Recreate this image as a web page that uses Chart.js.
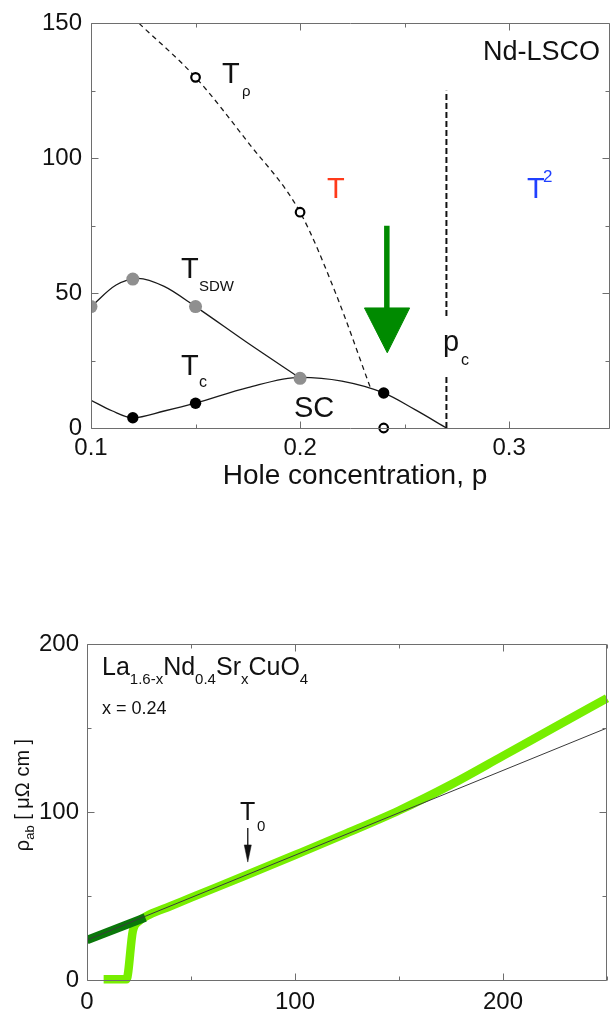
<!DOCTYPE html>
<html>
<head>
<meta charset="utf-8">
<script src="https://cdn.jsdelivr.net/npm/chart.js@4.4.1/dist/chart.umd.min.js"></script>
<style>
html, body { margin:0; padding:0; background:#fff; width:616px; height:1011px; overflow:hidden; }
.box { position:absolute; left:0; width:616px; }
#topBox { top:0; height:490px; }
#botBox { top:600px; height:411px; }
</style>
</head>
<body>
<div class="box" id="topBox"><canvas id="phase"></canvas></div>
<div class="box" id="botBox"><canvas id="rho"></canvas></div>
<script>
const FONT = '"Liberation Sans", Arial, sans-serif';

// --- phase diagram (top) ---
const pTicks = [0.1, 0.2, 0.3];
const pMinor = [0.15, 0.25];
const tTicks = [0, 50, 100, 150];
const tMinor = [25, 75, 125];

// T_rho crossover line (dashed) and its open symbols
const rhoCurveP = [0.123, 0.15, 0.175, 0.2, 0.217, 0.2336];
const rhoCurveT = [150, 130, 106, 80, 50, 15];
const rhoP = [0.15, 0.2, 0.24];
const rhoT = [130, 80, 0];

// T_SDW (grey symbols) and its guide line
const sdwCurveP = [0.1, 0.112, 0.1225, 0.135, 0.15, 0.175, 0.2];
const sdwCurveT = [45, 53, 55.5, 52.5, 45, 31.5, 18.5];
const sdwP = [0.1, 0.12, 0.15, 0.2];
const sdwT = [45, 55.2, 45, 18.4];

// Tc dome (black symbols) and its guide line
const tcCurveP = [0.1, 0.11, 0.12, 0.135, 0.15, 0.175, 0.2, 0.22, 0.24, 0.255, 0.27];
const tcCurveT = [10.3, 6.4, 3.8, 6.3, 9.2, 15, 18.8, 17.4, 13, 6.8, 0];
const tcP = [0.12, 0.15, 0.24];
const tcT = [3.8, 9.2, 13];

// critical point p_c (dashed vertical, broken round its label)
const pcLowP = [0.27, 0.27], pcLowT = [0, 19.5];
const pcHighP = [0.27, 0.27], pcHighT = [41.5, 125];

// green arrow at p = 0.24
const shaftP = [0.2415, 0.2415], shaftT = [75, 44];
const headP = [0.2308, 0.2524, 0.2417, 0.2308], headT = [44.5, 44.5, 27.9, 44.5];

// --- resistivity (bottom) ---
const tempTicks = [0, 100, 200];
const tempMinor = [50, 150, 250];
const resTicks = [0, 100, 200];
const resMinor = [50, 150];

const dataT = [8, 19, 22, 25, 30, 40, 50, 75, 100, 125, 150, 175, 200, 225, 250];
const dataR = [0.5, 0.5, 29, 35, 38.9, 43.9, 49, 61.6, 74.4, 87.4, 100.9, 116.3, 133.4, 150.6, 167.7];
const normalT = [0, 28];
const normalR = [23.8, 37.2];
const fitT = [0, 250];
const fitR = [23.8, 150];
const t0ShaftT = [77.3, 77.3], t0ShaftR = [90.5, 78];
const t0HeadT = [75.6, 79, 77.3, 75.6], t0HeadR = [80.4, 80.4, 70.2, 80.4];

const pts = (xs, ys) => xs.map((v, i) => ({x: v, y: ys[i]}));

// frame with inward ticks on all four sides, plus free text
const framePlugin = {
  id: 'frame',
  afterDatasetsDraw(chart, args, o) {
    const {ctx, chartArea: a, scales: {x, y}} = chart;
    const L = Math.round(a.left) + 0.5, R = Math.round(a.right) - 0.5;
    const T = Math.round(a.top) + 0.5, B = Math.round(a.bottom) + 0.5;
    ctx.save();
    ctx.strokeStyle = '#6e6e6e';
    ctx.lineWidth = 1;
    ctx.beginPath();
    ctx.rect(L, T, R - L, B - T);
    const xt = (v, len) => {
      const px = Math.round(x.getPixelForValue(v)) + 0.5;
      ctx.moveTo(px, B); ctx.lineTo(px, B - len);
      ctx.moveTo(px, T); ctx.lineTo(px, T + len);
    };
    const yt = (v, len) => {
      const py = Math.round(y.getPixelForValue(v)) + 0.5;
      ctx.moveTo(L, py); ctx.lineTo(L + len, py);
      ctx.moveTo(R, py); ctx.lineTo(R - len, py);
    };
    o.xMajor.forEach(v => xt(v, 7));
    o.xMinor.forEach(v => xt(v, 4));
    o.yMajor.forEach(v => yt(v, 7));
    o.yMinor.forEach(v => yt(v, 4));
    ctx.stroke();

    ctx.textBaseline = 'alphabetic';
    (o.texts || []).forEach(t => {
      ctx.font = t.s + 'px ' + FONT;
      ctx.fillStyle = t.c || '#111';
      ctx.textAlign = t.align || 'left';
      ctx.fillText(t.t, t.x, t.y);
    });
    // runs of text with sub/superscripts
    (o.runs || []).forEach(r => {
      ctx.save();
      ctx.translate(r.x, r.y);
      if (r.rot) ctx.rotate(r.rot);
      ctx.fillStyle = '#111';
      ctx.textAlign = 'left';
      let w = 0;
      r.parts.forEach(p => { ctx.font = p[1] + 'px ' + FONT; w += ctx.measureText(p[0]).width; });
      let cx = r.center ? -w / 2 : 0;
      r.parts.forEach(p => {
        ctx.font = p[1] + 'px ' + FONT;
        ctx.fillText(p[0], cx, p[2]);
        cx += ctx.measureText(p[0]).width;
      });
      ctx.restore();
    });
    ctx.restore();
  }
};

function axis(min, max, ticks, pad, size, fmt, fit) {
  return {
    type: 'linear', min, max,
    grid: {display: false, drawTicks: false}, border: {display: false},
    ticks: {padding: pad, color: '#111', font: {size: 24, family: FONT}, maxRotation: 0, callback: fmt},
    afterBuildTicks: s => { s.ticks = ticks.map(v => ({value: v})); },
    afterFit: s => { s[size] = fit; }
  };
}

const common = {
  responsive: true, maintainAspectRatio: false, animation: false, events: [],
  plugins: {legend: {display: false}, tooltip: {enabled: false}}
};

// first dataset is drawn on top
new Chart(document.getElementById('phase'), {
  type: 'scatter',
  data: {datasets: [
    {data: pts(rhoP, rhoT), pointRadius: 4.3, pointBackgroundColor: '#fff', pointBorderColor: '#000', pointBorderWidth: 2.2, clip: false},
    {data: pts(tcP, tcT), pointRadius: 5.7, pointBackgroundColor: '#000', pointBorderWidth: 0},
    {data: pts(sdwP, sdwT), pointRadius: 6.5, pointBackgroundColor: '#8f8f8f', pointBorderWidth: 0, clip: 0},
    {data: pts(headP, headT), showLine: true, borderColor: '#008a00', backgroundColor: '#008a00', borderWidth: 1, fill: 'shape', pointRadius: 0},
    {data: pts(shaftP, shaftT), showLine: true, borderColor: '#008a00', borderWidth: 5.5, borderCapStyle: 'butt', pointRadius: 0},
    {data: pts(pcLowP, pcLowT), showLine: true, borderColor: '#111', borderWidth: 2, borderDash: [6, 3], pointRadius: 0},
    {data: pts(pcHighP, pcHighT), showLine: true, borderColor: '#111', borderWidth: 2, borderDash: [6, 3], pointRadius: 0},
    {data: pts(tcCurveP, tcCurveT), showLine: true, borderColor: '#1a1a1a', borderWidth: 1.3, pointRadius: 0, cubicInterpolationMode: 'monotone'},
    {data: pts(sdwCurveP, sdwCurveT), showLine: true, borderColor: '#1a1a1a', borderWidth: 1.3, pointRadius: 0, cubicInterpolationMode: 'monotone'},
    {data: pts(rhoCurveP, rhoCurveT), showLine: true, borderColor: '#1a1a1a', borderWidth: 1.3, borderDash: [5, 4], pointRadius: 0, cubicInterpolationMode: 'monotone'}
  ]},
  options: {
    ...common,
    layout: {padding: {top: 20, right: 1, left: 0, bottom: 0}},
    scales: {
      x: axis(0.1, 0.348, pTicks, 6, 'height', v => v.toFixed(1), 62),
      y: axis(0, 150, tTicks, 9, 'width', v => String(v), 91)
    },
    plugins: {
      ...common.plugins,
      frame: {
        xMajor: pTicks, xMinor: pMinor, yMajor: tTicks, yMinor: tMinor,
        texts: [
          {t: 'T', x: 222, y: 83, s: 29}, {t: 'ρ', x: 242, y: 96, s: 15},
          {t: 'T', x: 181, y: 278, s: 29}, {t: 'SDW', x: 199, y: 291, s: 15},
          {t: 'T', x: 181, y: 375, s: 29}, {t: 'c', x: 199, y: 387, s: 16},
          {t: 'SC', x: 294, y: 417, s: 29},
          {t: 'Nd-LSCO', x: 483, y: 60, s: 27},
          {t: 'T', x: 327, y: 198, s: 29, c: '#ff3a1a'},
          {t: 'T', x: 527, y: 198, s: 29, c: '#2040ff'}, {t: '2', x: 543, y: 182, s: 17, c: '#2040ff'},
          {t: 'p', x: 443, y: 351, s: 29}, {t: 'c', x: 461, y: 365, s: 16},
          {t: 'Hole concentration, p', x: 355, y: 484, s: 28, align: 'center'}
        ]
      }
    }
  },
  plugins: [framePlugin]
});

new Chart(document.getElementById('rho'), {
  type: 'scatter',
  data: {datasets: [
    {data: pts(t0HeadT, t0HeadR), showLine: true, borderColor: '#111', backgroundColor: '#111', borderWidth: 0.5, fill: 'shape', pointRadius: 0},
    {data: pts(t0ShaftT, t0ShaftR), showLine: true, borderColor: '#111', borderWidth: 1.3, pointRadius: 0},
    {data: pts(fitT, fitR), showLine: true, borderColor: '#3a3a3a', borderWidth: 1, pointRadius: 0},
    {data: pts(normalT, normalR), showLine: true, borderColor: '#0a770a', borderWidth: 8.5, borderCapStyle: 'butt', pointRadius: 0, clip: 0},
    {data: pts(dataT, dataR), showLine: true, borderColor: '#77ee00', borderWidth: 8.5, borderJoinStyle: 'round', pointRadius: 0, cubicInterpolationMode: 'monotone', clip: false}
  ]},
  options: {
    ...common,
    layout: {padding: {top: 44, right: 9, left: 0, bottom: 0}},
    scales: {
      x: axis(0, 250, tempTicks, 8, 'height', v => String(v), 31),
      y: axis(0, 200, resTicks, 8, 'width', v => String(v), 87)
    },
    plugins: {
      ...common.plugins,
      frame: {
        xMajor: tempTicks, xMinor: tempMinor, yMajor: resTicks, yMinor: resMinor,
        texts: [
          {t: 'x = 0.24', x: 102, y: 114, s: 18},
          {t: 'T', x: 240, y: 220, s: 25}, {t: '0', x: 257, y: 231, s: 15}
        ],
        runs: [
          {x: 102, y: 75, parts: [['La', 25, 0], ['1.6-x', 15, 9], ['Nd', 25, 0], ['0.4', 15, 9], ['Sr', 25, 0], ['x', 15, 9], ['CuO', 25, 0], ['4', 15, 9]]},
          {x: 29, y: 195, rot: -Math.PI / 2, center: true, parts: [['ρ', 20, 0], ['ab', 13, 5], [' [ μΩ cm ]', 20, 0]]}
        ]
      }
    }
  },
  plugins: [framePlugin]
});
</script>
</body>
</html>
